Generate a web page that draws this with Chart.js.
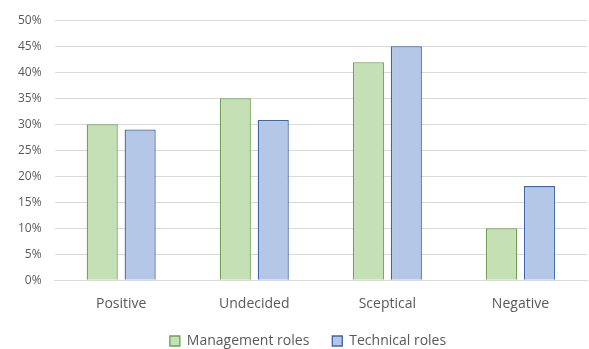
<!DOCTYPE html>
<html><head><meta charset="utf-8">
<script src="https://cdn.jsdelivr.net/npm/chart.js@4/dist/chart.umd.min.js"></script>
<style>html,body{margin:0;padding:0;background:#fff}#wrap{width:589px;height:349px}</style>
</head><body><div id="wrap"><canvas id="c" width="589" height="349"></canvas></div>
<script>
const categories = ["Positive", "Undecided", "Sceptical", "Negative"];
const managementRoles = [30, 35, 41.9, 10];
const technicalRoles = [29, 30.8, 45, 18.1];
const yTicks = [0, 5, 10, 15, 20, 25, 30, 35, 40, 45, 50];

const legendTrim = {
  id: 'legendTrim',
  beforeInit(chart) {
    const lg = chart.legend;
    const origFit = lg.fit;
    lg.fit = function () { origFit.call(lg); lg.height -= 17; };
    lg.draw = function () {
      if (!lg.options.display) return;
      const ctx = chart.ctx;
      ctx.save(); ctx.translate(12, -8); lg._draw(); ctx.restore();
    };
  }
};

new Chart(document.getElementById('c'), {
  type: 'bar',
  data: {
    labels: categories,
    datasets: [
      { label: 'Management roles', data: managementRoles, backgroundColor: '#c5e0b4', borderColor: '#70a04f', borderWidth: 1.3 },
      { label: 'Technical roles', data: technicalRoles, backgroundColor: '#b4c7e7', borderColor: '#3f65a8', borderWidth: 1.3 }
    ]
  },
  plugins: [legendTrim],
  options: {
    responsive: false, animation: false,
    layout: { padding: { left: 5, right: 2, top: 14, bottom: 0 } },
    datasets: { bar: { categoryPercentage: 0.57, barPercentage: 0.82 } },
    plugins: {
      legend: { position: 'bottom', labels: { boxWidth: 10, boxHeight: 10, color: '#595959', font: { family: 'Open Sans', size: 14 }, padding: 23 } },
      tooltip: { enabled: false }
    },
    scales: {
      x: { grid: { display: false }, border: { color: '#d9d9d9' }, ticks: { color: '#595959', font: { family: 'Open Sans', size: 14 }, padding: 7 } },
      y: { min: 0, max: 50, afterBuildTicks: a => { a.ticks = yTicks.map(v => ({ value: v })); },
           grid: { color: '#d9d9d9', drawTicks: false }, border: { display: false },
           ticks: { color: '#595959', font: { family: 'Open Sans', size: 12 }, padding: 13, callback: v => v + '%' } }
    }
  }
});
</script></body></html>
